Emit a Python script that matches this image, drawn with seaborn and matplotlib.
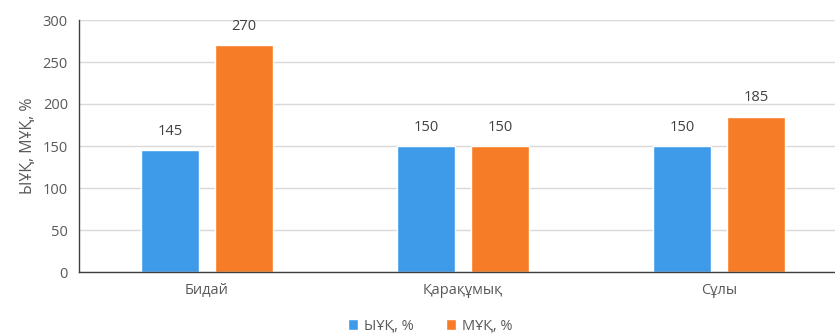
import matplotlib
matplotlib.use("Agg")
import matplotlib.pyplot as plt
import seaborn as sns
import pandas as pd

categories = ["Бидай", "Қарақұмық", "Сұлы"]
series_names = ["ЫҰҚ, %", "МҰҚ, %"]
yuk_values = [145, 150, 150]
muk_values = [270, 150, 185]
y_ticks = [0, 50, 100, 150, 200, 250, 300]

colors = ["#3D9BE9", "#F67C27"]
text_color = "#595959"

sns.set_theme(style="white")
plt.rcParams["font.family"] = ["Open Sans", "DejaVu Sans"]

df = pd.DataFrame({
    "cat": categories * 2,
    "series": [series_names[0]] * 3 + [series_names[1]] * 3,
    "value": yuk_values + muk_values,
})

fig = plt.figure(figsize=(8.35, 3.35), dpi=100)
ax = fig.add_axes([79 / 835, 63 / 335, 768 / 835, 252 / 335])

sns.barplot(data=df, x="cat", y="value", hue="series", order=categories,
            hue_order=series_names, palette=colors, width=0.58, gap=0.21,
            saturation=1, ax=ax, legend=True)

for cont in ax.containers:
    ax.bar_label(cont, fmt="%g", padding=8, fontsize=10.5, color="#404040")

ax.set_ylim(0, 300)
ax.set_xlim(-0.5, 2.5)
ax.set_yticks(y_ticks)
ax.yaxis.grid(True, color="#D9D9D9", linewidth=1)
ax.set_axisbelow(True)
for s in ["top", "right"]:
    ax.spines[s].set_visible(False)
ax.spines["left"].set_color("#404040")
ax.spines["bottom"].set_color("#404040")
ax.spines["left"].set_linewidth(1)
ax.spines["bottom"].set_linewidth(1)
ax.tick_params(axis="both", length=0, labelsize=10.5, labelcolor=text_color, pad=8)
ax.set_xlabel("")
ax.set_ylabel("ЫҰҚ, МҰҚ, %", fontsize=11.5, color=text_color, labelpad=5)

leg = ax.legend(loc="center", bbox_to_anchor=(430 / 835, 9 / 335),
                bbox_transform=fig.transFigure, ncol=2, frameon=False,
                fontsize=10.5, handlelength=0.7, handleheight=0.7,
                handletextpad=0.4, columnspacing=2.2)
for t in leg.get_texts():
    t.set_color(text_color)

fig.savefig("out.png", dpi=100)
